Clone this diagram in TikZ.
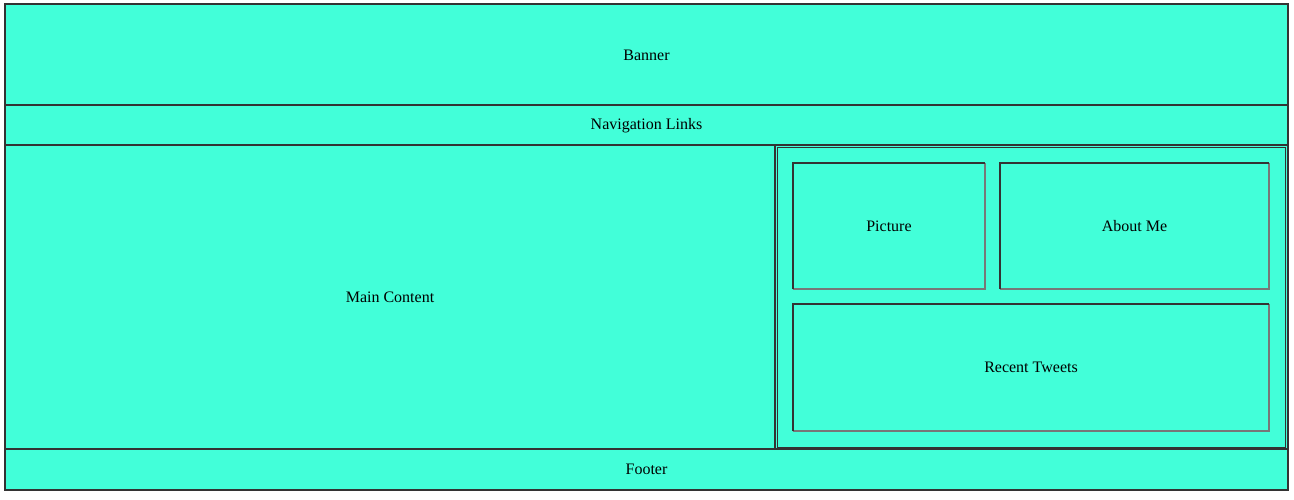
\documentclass[tikz,border=0pt]{standalone}
\usepackage{fontspec}
\setmainfont{Liberation Serif}

\definecolor{aqua}{HTML}{42FFD9}
\definecolor{edgedark}{HTML}{333333}
\definecolor{edgelite}{HTML}{777777}

\tikzset{
    panel/.style={fill=aqua},
    darkedge/.style={draw=edgedark,line width=1.1pt},
    liteedge/.style={draw=edgelite,line width=1.1pt},
    label/.style={anchor=center,font=\fontsize{16}{19}\selectfont}
}

% one box: fill, light lower/right edge, dark upper/left edge
\newcommand{\panelbox}[4]{
    \fill[panel] (#1,#2) rectangle (#3,#4);
    \draw[liteedge] (#1,#4) -- (#3,#4) -- (#3,#2);
    \draw[darkedge] (#1,#4) -- (#1,#2) -- (#3,#2);
}

\begin{document}
\begin{tikzpicture}[x=1pt,y=-1pt]
        \useasboundingbox[fill=white] (0,0) rectangle (1294,499);

        % page rows
        \panelbox{5}{4}{1288}{105}
        \node[label] (banner) at (646.5, 55) {Banner};

        \panelbox{5}{105}{1288}{145}
        \node[label] (nav) at (646.5, 125.5) {Navigation Links};

        \panelbox{5}{145}{775}{449}
        \node[label] (main) at (390, 297) {Main Content};

        \panelbox{775}{145}{1288}{449}
        \draw[darkedge,line width=0.8pt] (777,447) rectangle (1285,147);

        \panelbox{5}{449}{1288}{490}
        \node[label] (footer) at (646.5, 469.5) {Footer};

        % sidebar
        \panelbox{793}{163}{985}{289}
        \node[label] (picture) at (889, 226) {Picture};

        \panelbox{1000}{163}{1269}{289}
        \node[label] (about) at (1134.5, 226) {About Me};

        \panelbox{793}{304}{1269}{431}
        \node[label] (tweets) at (1031, 367.5) {Recent Tweets};

        % outer frame
        \draw[darkedge,line width=1.4pt] (5,4) rectangle (1288,490);

    \end{tikzpicture}
\end{document}
